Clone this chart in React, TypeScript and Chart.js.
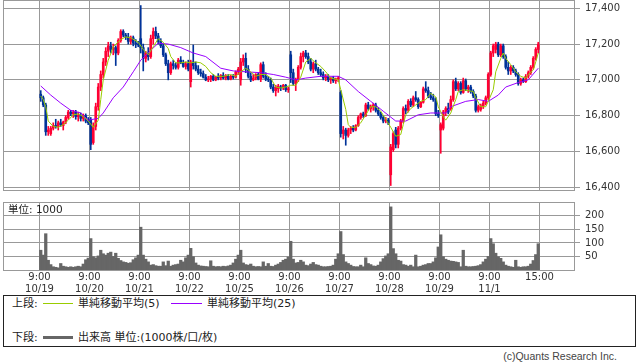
import React, { useEffect, useRef } from 'react';
import { Chart, registerables } from 'chart.js';

Chart.register(...registerables);

// ---- data ----
const DAY_LABELS = ['10/19', '10/20', '10/21', '10/22', '10/25', '10/26', '10/27', '10/28', '10/29', '11/1'];
const OPEN_TIME = '9:00';
const CLOSE_TIME = '15:00';
const CANDLES_PER_DAY = 20;
const PRICE_TICKS = [16400, 16600, 16800, 17000, 17200, 17400];
const VOLUME_TICKS = [50, 100, 150, 200];

const OPEN = [
  16920, 16900, 16860, 16710, 16700, 16730, 16745, 16740, 16760, 16745, 16765, 16790, 16820, 16810, 16820, 16795, 16800, 16785, 16800, 16770,
  16780, 16650, 16740, 16850, 16960, 17030, 17100, 17160, 17190, 17170, 17180, 17150, 17220, 17270, 17250, 17240, 17215, 17235, 17205, 17200,
  17230, 17180, 17120, 17150, 17130, 17230, 17270, 17245, 17215, 17190, 17140, 17090, 17040, 17090, 17080, 17070, 17110, 17095, 17075, 17090,
  16990, 17100, 17080, 17060, 17040, 17035, 17015, 17000, 17005, 17020, 17000, 17015, 17010, 17025, 17010, 17020, 17005, 17020, 17015, 17045,
  17000, 17100, 17120, 17060, 17020, 17000, 17010, 17030, 17005, 17085, 17020, 17005, 17000, 16960, 16940, 16950, 16960, 16955, 16970, 16945,
  17140, 17040, 16980, 17000, 17070, 17130, 17150, 17130, 17100, 17060, 17090, 17060, 17040, 17030, 17010, 17020, 17000, 17010, 16995, 17005,
  16930, 16700, 16720, 16690, 16720, 16730, 16720, 16745, 16790, 16810, 16800, 16860, 16840, 16850, 16860, 16830, 16810, 16790, 16770, 16775,
  16470, 16610, 16720, 16640, 16730, 16770, 16840, 16830, 16880, 16860, 16900, 16890, 16850, 16875, 16950, 16940, 16910, 16900, 16890, 16810,
  16720, 16730, 16820, 16840, 16840, 16890, 16990, 16950, 16980, 16930, 16995, 16950, 16960, 16935, 16910, 16830, 16835, 16855, 16870, 16900,
  17030, 17150, 17170, 17200, 17140, 17190, 17130, 17070, 17050, 17070, 17050, 17030, 16980, 17000, 16990, 17020, 17040, 17070, 17120, 17170,
];
const HIGH = [
  16940, 16910, 16870, 16740, 16740, 16760, 16780, 16770, 16780, 16770, 16800, 16830, 16830, 16830, 16830, 16820, 16815, 16810, 16810, 16790,
  16790, 16760, 16870, 16980, 17050, 17120, 17180, 17210, 17210, 17200, 17190, 17230, 17280, 17280, 17260, 17260, 17245, 17245, 17225, 17215,
  17415, 17200, 17160, 17180, 17250, 17290, 17295, 17260, 17230, 17200, 17150, 17110, 17100, 17110, 17095, 17120, 17130, 17110, 17100, 17110,
  17110, 17195, 17100, 17080, 17060, 17050, 17030, 17020, 17025, 17030, 17020, 17035, 17030, 17040, 17030, 17030, 17025, 17030, 17050, 17070,
  17120, 17140, 17150, 17080, 17040, 17030, 17035, 17040, 17095, 17100, 17040, 17020, 17010, 16975, 16970, 16975, 16970, 16975, 16975, 16960,
  17160, 17060, 17010, 17080, 17150, 17160, 17165, 17150, 17120, 17100, 17110, 17070, 17060, 17045, 17030, 17030, 17015, 17020, 17010, 17020,
  16940, 16740, 16730, 16730, 16740, 16745, 16750, 16800, 16815, 16820, 16870, 16875, 16860, 16870, 16870, 16845, 16820, 16800, 16790, 16785,
  16640, 16710, 16735, 16740, 16780, 16850, 16860, 16890, 16895, 16910, 16935, 16900, 16880, 16960, 16990, 16960, 16930, 16920, 16900, 16830,
  16760, 16830, 16850, 16870, 16910, 17000, 17010, 16990, 16990, 17010, 17005, 16970, 16970, 16945, 16920, 16860, 16865, 16880, 16910, 17040,
  17160, 17200, 17210, 17210, 17200, 17200, 17140, 17100, 17080, 17080, 17060, 17040, 17010, 17010, 17030, 17050, 17080, 17130, 17180, 17210,
];
const LOW = [
  16880, 16850, 16690, 16690, 16690, 16720, 16730, 16720, 16740, 16720, 16755, 16780, 16800, 16790, 16780, 16770, 16770, 16770, 16760, 16750,
  16610, 16640, 16720, 16830, 16940, 17010, 17080, 17130, 17150, 17140, 17080, 17140, 17210, 17240, 17225, 17200, 17200, 17190, 17180, 17185,
  17150, 17050, 17100, 17110, 17120, 17200, 17230, 17200, 17180, 17130, 17080, 17000, 17030, 17060, 17060, 17060, 17090, 17070, 17060, 17050,
  16960, 17060, 17050, 17030, 17020, 17010, 16995, 16990, 16990, 16995, 16995, 17000, 17000, 17005, 17000, 17000, 17000, 17005, 17010, 17030,
  16970, 17080, 17040, 17010, 16990, 16995, 17000, 17000, 16990, 17010, 16995, 16990, 16950, 16930, 16910, 16930, 16940, 16945, 16935, 16930,
  16985, 16970, 16940, 16990, 17060, 17100, 17120, 17090, 17050, 17040, 17050, 17030, 17020, 17000, 16995, 16990, 16980, 16985, 16980, 16990,
  16680, 16670, 16635, 16680, 16700, 16710, 16715, 16740, 16780, 16790, 16795, 16830, 16820, 16830, 16820, 16800, 16780, 16760, 16760, 16750,
  16410, 16600, 16620, 16620, 16720, 16760, 16810, 16820, 16850, 16850, 16880, 16840, 16845, 16870, 16930, 16900, 16890, 16880, 16800, 16790,
  16590, 16720, 16800, 16810, 16830, 16880, 16940, 16940, 16920, 16925, 16940, 16930, 16925, 16900, 16820, 16820, 16825, 16840, 16860, 16890,
  17020, 17130, 17150, 17130, 17130, 17120, 17060, 17030, 17030, 17040, 17020, 16970, 16970, 16985, 16985, 17010, 17030, 17060, 17110, 17150,
];
const CLOSE = [
  16900, 16860, 16710, 16720, 16730, 16745, 16740, 16760, 16750, 16765, 16790, 16820, 16810, 16820, 16795, 16800, 16785, 16800, 16770, 16760,
  16640, 16740, 16850, 16960, 17030, 17100, 17160, 17190, 17170, 17180, 17150, 17220, 17270, 17250, 17240, 17215, 17235, 17205, 17200, 17195,
  17180, 17120, 17150, 17130, 17230, 17270, 17245, 17215, 17190, 17140, 17090, 17040, 17090, 17080, 17070, 17110, 17095, 17075, 17090, 17060,
  17100, 17080, 17060, 17040, 17035, 17015, 17000, 17005, 17020, 17000, 17015, 17010, 17025, 17010, 17020, 17005, 17020, 17015, 17045, 17060,
  17100, 17120, 17060, 17020, 17000, 17010, 17030, 17005, 17085, 17020, 17005, 17000, 16960, 16940, 16960, 16965, 16955, 16970, 16945, 16950,
  17040, 16980, 17000, 17070, 17130, 17150, 17130, 17100, 17060, 17090, 17060, 17040, 17030, 17010, 17020, 17000, 17010, 16995, 17005, 17010,
  16700, 16720, 16690, 16720, 16730, 16720, 16745, 16790, 16810, 16800, 16860, 16840, 16850, 16860, 16830, 16810, 16790, 16770, 16775, 16760,
  16625, 16700, 16640, 16730, 16770, 16840, 16830, 16880, 16860, 16900, 16890, 16850, 16875, 16950, 16940, 16910, 16900, 16890, 16810, 16800,
  16750, 16820, 16840, 16820, 16890, 16990, 16950, 16980, 16930, 16995, 16950, 16960, 16935, 16910, 16830, 16850, 16855, 16870, 16900, 17030,
  17150, 17190, 17200, 17140, 17190, 17130, 17070, 17050, 17070, 17050, 17030, 16980, 17000, 16990, 17020, 17040, 17070, 17120, 17170, 17200,
];
const VOLUME = [
  73, 55, 134, 36, 20, 12, 10, 8, 24, 14, 12, 10, 12, 10, 12, 14, 12, 22, 38, 44,
  116, 49, 45, 52, 73, 60, 55, 62, 66, 50, 62, 43, 35, 30, 28, 25, 27, 38, 45, 55,
  158, 55, 40, 30, 18, 20, 16, 14, 14, 30, 16, 33, 14, 18, 20, 22, 36, 30, 45, 55,
  80, 49, 26, 18, 15, 14, 13, 12, 34, 14, 12, 13, 12, 14, 13, 15, 18, 26, 40, 55,
  73, 26, 20, 18, 22, 14, 12, 13, 12, 30, 14, 24, 14, 13, 18, 22, 28, 36, 40, 48,
  106, 40, 26, 28, 36, 30, 18, 16, 22, 28, 20, 18, 14, 12, 12, 13, 14, 18, 40, 60,
  142, 57, 30, 24, 18, 13, 12, 12, 18, 12, 45, 24, 20, 15, 14, 18, 30, 42, 52, 60,
  233, 79, 60, 36, 33, 20, 18, 14, 18, 12, 55, 12, 14, 18, 20, 24, 24, 30, 45, 85,
  130, 49, 40, 36, 33, 32, 30, 28, 12, 73, 14, 12, 12, 13, 14, 16, 20, 30, 40, 50,
  116, 97, 62, 49, 43, 30, 18, 14, 12, 10, 36, 12, 10, 12, 12, 14, 22, 35, 57, 97,
];
// moving averages: [candle index, value]
const MA5: [number, number][] = [
  [0, 16910], [1, 16890], [2, 16850], [3, 16770], [5, 16740], [7, 16735], [9, 16750], [11, 16775], [13, 16805], [15, 16810],
  [17, 16795], [19, 16770], [21, 16735], [23, 16775], [24, 16890], [25, 17000], [27, 17110], [29, 17185], [32, 17225], [34, 17240],
  [36, 17235], [39, 17210], [41, 17170], [43, 17140], [45, 17185], [47, 17230], [49, 17210], [51, 17175], [52, 17130], [54, 17095],
  [56, 17095], [58, 17100], [60, 17095], [62, 17100], [64, 17095], [66, 17075], [68, 17040], [70, 17020], [73, 17020], [76, 17030],
  [78, 17020], [80, 17045], [82, 17065], [84, 17045], [86, 17020], [88, 17030], [90, 17030], [92, 17010], [94, 16960], [96, 16955],
  [98, 16960], [100, 16970], [102, 16970], [104, 17015], [106, 17100], [108, 17120], [110, 17095], [112, 17075], [114, 17045], [116, 17010],
  [119, 17000], [120, 16945], [122, 16835], [123, 16750], [124, 16735], [126, 16735], [128, 16760], [130, 16805], [132, 16850], [134, 16850],
  [136, 16825], [138, 16780], [140, 16735], [142, 16685], [144, 16695], [145, 16750], [146, 16805], [148, 16840], [150, 16860], [152, 16880],
  [154, 16890], [156, 16925], [158, 16905], [159, 16850], [161, 16795], [162, 16775], [164, 16815], [166, 16890], [167, 16935], [169, 16945],
  [171, 16940], [173, 16935], [174, 16900], [176, 16850], [178, 16850], [179, 16880], [181, 16945], [182, 17045], [184, 17120], [185, 17150],
  [186, 17120], [188, 17085], [190, 17045], [192, 17020], [194, 17010], [195, 17030], [197, 17055], [198, 17100], [199, 17150],
];
const MA25: [number, number][] = [
  [0, 16966], [4, 16915], [8, 16870], [12, 16830], [16, 16815], [19, 16775], [23, 16785], [25, 16815], [29, 16900], [33, 16960],
  [37, 17045], [40, 17110], [44, 17165], [47, 17205], [51, 17200], [56, 17180], [61, 17150], [66, 17130], [72, 17065], [77, 17050],
  [82, 17045], [88, 17040], [93, 17030], [98, 17015], [102, 17000], [106, 17010], [112, 17020], [119, 17020], [122, 17000], [127, 16935],
  [132, 16880], [137, 16825], [142, 16770], [146, 16770], [151, 16805], [156, 16815], [162, 16815], [164, 16850], [170, 16880], [175, 16890],
  [179, 16880], [183, 16915], [186, 16960], [191, 16985], [195, 17000], [199, 17065],
];

// ---- styles ----
const UP = '#ff0033';
const DOWN = '#003399';
const MA5_COLOR = '#99cc00';
const MA25_COLOR = '#9900ff';
const VOL_COLOR = '#666666';
const GRID = '#999999';
const TEXT = '#333333';
const FONT = '"DejaVu Sans", "Noto Sans CJK JP", sans-serif';
const X_MIN = -15.1;
const X_MAX = 213.7;

const X_TICK_POS = Array.from({ length: DAY_LABELS.length + 1 }, (_, d) => d * CANDLES_PER_DAY - 0.5);
const X_TICK_LABELS: (string | string[])[] = [...DAY_LABELS.map((d) => [OPEN_TIME, d]), CLOSE_TIME];

const framePlugin = {
  id: 'frame',
  afterDraw(chart: any) {
    const { ctx, chartArea: a } = chart;
    ctx.save();
    ctx.strokeStyle = GRID;
    ctx.lineWidth = 1;
    const l = Math.round(a.left) + 0.5;
    const t = Math.round(a.top) + 0.5;
    const r = Math.round(a.right) - 0.5;
    const b = Math.round(a.bottom) + 0.5;
    ctx.strokeRect(l, t, r - l, b - t);
    ctx.restore();
  },
};

function noPad(s: any) {
  s.paddingLeft = 0;
  s.paddingRight = 0;
  s.paddingTop = 0;
  s.paddingBottom = 0;
}

function xScale(showLabels: boolean, height: number) {
  return {
    type: 'linear',
    min: X_MIN,
    max: X_MAX,
    offset: false,
    afterBuildTicks: (s: any) => {
      s.ticks = X_TICK_POS.map((v) => ({ value: v }));
    },
    afterFit: (s: any) => {
      s.height = height;
      noPad(s);
    },
    ticks: {
      display: showLabels,
      autoSkip: false,
      maxRotation: 0,
      padding: 1,
      color: TEXT,
      font: { family: FONT, size: 10, lineHeight: 1.25 },
      callback: (_v: any, i: number) => X_TICK_LABELS[i],
    },
    grid: { color: GRID, drawTicks: false, offset: false, lineWidth: 1 },
    border: { display: false },
  };
}

function yScale(min: number, max: number, ticks: number[]) {
  return {
    position: 'right',
    min,
    max,
    afterBuildTicks: (s: any) => {
      s.ticks = ticks.map((v) => ({ value: v }));
    },
    afterFit: (s: any) => {
      s.width = 63;
      noPad(s);
    },
    ticks: {
      padding: 5,
      color: TEXT,
      font: { family: FONT, size: 10 },
      callback: (v: any) => Number(v).toLocaleString('en-US'),
    },
    grid: { color: GRID, tickLength: 5, lineWidth: 1 },
    border: { display: false },
  };
}

export default function App() {
  const priceRef = useRef<HTMLCanvasElement>(null);
  const volRef = useRef<HTMLCanvasElement>(null);

  useEffect(() => {
    const colors = OPEN.map((o, i) => (CLOSE[i] >= o ? UP : DOWN));
    const price = new Chart(priceRef.current!, {
      type: 'bar',
      data: {
        datasets: [
          {
            type: 'line',
            label: '単純移動平均(5)',
            data: MA5.map(([x, y]) => ({ x, y })),
            borderColor: MA5_COLOR,
            borderWidth: 1,
            pointRadius: 0,
            tension: 0,
          } as any,
          {
            type: 'line',
            label: '単純移動平均(25)',
            data: MA25.map(([x, y]) => ({ x, y })),
            borderColor: MA25_COLOR,
            borderWidth: 1,
            pointRadius: 0,
            tension: 0,
          },
          {
            type: 'bar',
            label: 'body',
            data: OPEN.map((o, i) => ({ x: i, y: [o, CLOSE[i]] })),
            backgroundColor: colors,
            barThickness: 2,
            grouped: false,
            minBarLength: 1,
          },
          {
            type: 'bar',
            label: 'wick',
            data: LOW.map((l, i) => ({ x: i, y: [l, HIGH[i]] })),
            backgroundColor: colors,
            barThickness: 1,
            grouped: false,
          },
        ],
      },
      options: {
        animation: false,
        responsive: false,
        events: [],
        layout: { padding: { left: 3, top: 0, right: 0, bottom: 0 } },
        plugins: { legend: { display: false }, tooltip: { enabled: false } },
        scales: {
          x: xScale(false, 5) as any,
          y: yScale(16385, 17446, PRICE_TICKS) as any,
        },
      },
      plugins: [framePlugin],
    });

    const vol = new Chart(volRef.current!, {
      type: 'bar',
      data: {
        datasets: [
          {
            label: '出来高',
            data: VOLUME.map((v, i) => ({ x: i, y: v })),
            backgroundColor: VOL_COLOR,
            barThickness: 2.6,
            grouped: false,
          },
        ],
      },
      options: {
        animation: false,
        responsive: false,
        events: [],
        layout: { padding: { left: 3, top: 7, right: 0, bottom: 0 } },
        plugins: { legend: { display: false }, tooltip: { enabled: false } },
        scales: {
          x: xScale(true, 25) as any,
          y: yScale(0, 251, VOLUME_TICKS) as any,
        },
      },
      plugins: [framePlugin],
    });

    return () => {
      price.destroy();
      vol.destroy();
    };
  }, []);

  const txt: React.CSSProperties = {
    position: 'absolute',
    fontFamily: FONT,
    fontSize: 11,
    lineHeight: '13px',
    color: '#222',
    whiteSpace: 'nowrap',
  };

  return (
    <div style={{ position: 'absolute', left: 0, top: 0, width: 638, height: 362, background: '#fff', overflow: 'hidden' }}>
      <canvas ref={priceRef} width={638} height={195} style={{ position: 'absolute', left: 0, top: 0, display: 'block' }} />
      <canvas ref={volRef} width={638} height={100} style={{ position: 'absolute', left: 0, top: 195, display: 'block' }} />
      <div style={{ ...txt, left: 8, top: 203, fontSize: 10.5 }}>単位: 1000</div>
      <div
        style={{
          position: 'absolute',
          left: 3,
          top: 295,
          width: 633,
          height: 52,
          boxSizing: 'border-box',
          border: '1px solid #222',
        }}
      />
      <div style={{ ...txt, left: 12, top: 297 }}>上段:</div>
      <div style={{ position: 'absolute', left: 43, top: 303, width: 30, height: 1, background: MA5_COLOR }} />
      <div style={{ ...txt, left: 78, top: 297 }}>単純移動平均(5)</div>
      <div style={{ position: 'absolute', left: 171, top: 303, width: 31, height: 1, background: MA25_COLOR }} />
      <div style={{ ...txt, left: 207, top: 297 }}>単純移動平均(25)</div>
      <div style={{ ...txt, left: 12, top: 331 }}>下段:</div>
      <div style={{ position: 'absolute', left: 43, top: 336, width: 30, height: 3, background: VOL_COLOR }} />
      <div style={{ ...txt, left: 78, top: 331 }}>出来高 単位:(1000株/口/枚)</div>
      <div style={{ ...txt, right: 21, top: 350, fontSize: 10.5, color: '#444', fontFamily: '"Liberation Sans", "DejaVu Sans", sans-serif' }}>
        (c)Quants Research Inc.
      </div>
    </div>
  );
}
